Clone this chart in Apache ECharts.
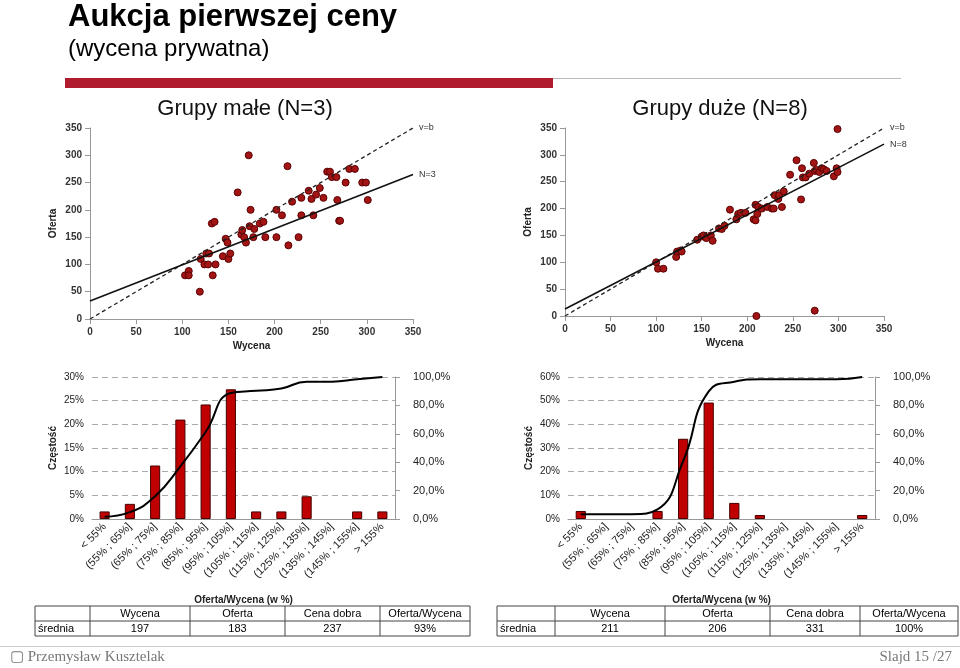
<!DOCTYPE html>
<html><head><meta charset="utf-8">
<script src="https://cdn.jsdelivr.net/npm/echarts@6/dist/echarts.min.js"></script>
<style>html,body{margin:0;padding:0;background:#fff}#c{width:960px;height:668px}</style>
</head><body><div id="c"></div>
<script>
const smallPts = [[103,80],[107,88],[107,80],[119,50],[120,110],[124,100],[126,120],[128,100],[129,120],[133,80],[132,175],[135,178],[136,100],[144,115],[147,147],[149,140],[150,110],[152,120],[160,232],[164,155],[165,163],[167,150],[169,140],[173,170],[172,300],[174,200],[178,165],[177,150],[184,175],[188,178],[190,150],[202,200],[202,150],[208,190],[214,280],[215,135],[219,215],[226,150],[229,222],[229,190],[237,235],[240,220],[242,190],[245,228],[249,240],[253,222],[257,270],[260,270],[262,260],[267,260],[268,218],[270,180],[271,180],[277,250],[281,275],[287,275],[295,250],[299,250],[301,218]];
const largePts = [[100,100],[102,88],[108,88],[122,110],[123,120],[127,122],[128,120],[145,142],[150,148],[152,150],[155,145],[160,150],[162,140],[169,163],[172,162],[175,168],[181,198],[188,180],[190,190],[193,192],[198,192],[207,180],[209,207],[209,178],[211,190],[212,203],[216,200],[210,0],[222,203],[227,200],[229,200],[230,225],[234,218],[235,225],[238,203],[240,232],[247,263],[254,290],[259,217],[260,275],[261,258],[264,258],[268,265],[273,285],[274,270],[276,272],[279,268],[282,275],[284,273],[287,270],[295,260],[298,275],[299,348],[299,268],[274,10]];
const diagLine = [[0,0],[350,350]];
const fitSmall = [[0,33],[350,265]];
const fitLarge = [[0,13],[350,320]];
const bins = ['< 55%','(55% ; 65%]','(65% ; 75%]','(75% ; 85%]','(85% ; 95%]','(95% ; 105%]','(105% ; 115%]','(115% ; 125%]','(125% ; 135%]','(135% ; 145%]','(145% ; 155%]','> 155%'];
const freqSmall = [1.6,3.2,11.3,21,24.2,27.4,1.6,1.6,4.8,0,1.6,1.6];
const cumSmall = [1.6,4.8,16.1,37.1,61.3,88.7,90.3,91.9,96.7,96.7,98.4,100];
const freqLarge = [3.4,0,0,3.4,33.9,49.2,6.8,1.7,0,0,0,1.7];
const cumLarge = [3.4,3.4,3.4,6.8,40.7,89.9,96.7,98.4,98.4,98.4,98.4,100];
const tableHead = ['Wycena','Oferta','Cena dobra','Oferta/Wycena'];
const rowSmall = ['197','183','237','93%'];
const rowLarge = ['211','206','331','100%'];

const F = 'Liberation Sans, Arial, sans-serif';
const axLab = {fontFamily:F,fontSize:10,color:'#333',fontWeight:'bold'};
const axLine = {show:true,lineStyle:{color:'#999'}};
function scatterX(gi){return {gridIndex:gi,type:'value',min:0,max:350,interval:50,axisLine:axLine,axisTick:{show:true,lineStyle:{color:'#999'}},splitLine:{show:false},axisLabel:axLab,name:'Wycena',nameLocation:'middle',nameGap:22,nameTextStyle:{fontFamily:F,fontSize:10,fontWeight:'bold',color:'#222'}};}
function scatterY(gi){return {gridIndex:gi,type:'value',min:0,max:350,interval:50,axisLine:axLine,axisTick:{show:true,lineStyle:{color:'#999'}},splitLine:{show:false},axisLabel:axLab,name:'Oferta',nameLocation:'middle',nameGap:32,nameTextStyle:{fontFamily:F,fontSize:10,fontWeight:'bold',color:'#222'}};}
function catX(gi){return {gridIndex:gi,type:'category',data:bins,axisLine:{lineStyle:{color:'#999'}},axisTick:{show:false},axisLabel:{rotate:45,interval:0,fontFamily:F,fontSize:11,color:'#222',margin:6},name:'Oferta/Wycena (w %)',nameLocation:'middle',nameGap:76,nameTextStyle:{fontFamily:F,fontSize:10,fontWeight:'bold',color:'#222'}};}
function freqY(gi,max,intv){return {gridIndex:gi,type:'value',min:0,max:max,interval:intv,position:'left',axisLine:{show:false},axisTick:{show:false},axisLabel:{fontFamily:F,fontSize:10,color:'#222',formatter:v=>v+'%'},splitLine:{lineStyle:{type:[6,4],color:'#aaa'}},name:'Częstość',nameLocation:'middle',nameGap:34,nameTextStyle:{fontFamily:F,fontSize:10,fontWeight:'bold',color:'#222'}};}
function cumY(gi){return {gridIndex:gi,type:'value',min:0,max:100,interval:20,position:'right',axisLine:{show:true,lineStyle:{color:'#999'}},axisTick:{show:true,lineStyle:{color:'#999'}},splitLine:{show:false},axisLabel:{fontFamily:F,fontSize:11,color:'#222',margin:18,formatter:v=>v.toFixed(1).replace('.',',')+'%'}};}
function endLbl(t){return {show:true,formatter:t,fontFamily:F,fontSize:9,color:'#333',distance:6};}
const nz = a => a.map(v => v === 0 ? '-' : v);

const graphic = [
  {type:'text',left:68,top:2,style:{text:'Aukcja pierwszej ceny',font:'bold 31px '+F,fill:'#000'}},
  {type:'text',left:68,top:37,style:{text:'(wycena prywatna)',font:'24px '+F,fill:'#000'}},
  {type:'rect',shape:{x:65,y:78,width:488,height:10},style:{fill:'#b01c2e'}},
  {type:'rect',shape:{x:553,y:78,width:348,height:1},style:{fill:'#bbb'}},
  {type:'text',x:245,y:98,style:{text:'Grupy małe (N=3)',font:'22px '+F,fill:'#111',align:'center'}},
  {type:'text',x:720,y:98,style:{text:'Grupy duże (N=8)',font:'22px '+F,fill:'#111',align:'center'}},
  {type:'rect',shape:{x:0,y:646,width:960,height:1},style:{fill:'#ccc'}},
  {type:'text',left:10,top:650,style:{text:'\u25A2 Przemysław Kusztelak',font:'15px Liberation Serif, serif',fill:'#777'}},
  {type:'text',right:8,top:650,style:{text:'Slajd 15 /27',font:'15px Liberation Serif, serif',fill:'#777'}}
];
function table(x0,cols,row){
  const y0=606,h=15;
  const xs=[x0]; cols.forEach(w=>xs.push(xs[xs.length-1]+w));
  const W=xs[xs.length-1]-x0;
  graphic.push({type:'rect',shape:{x:x0,y:y0,width:W,height:2*h},style:{fill:'none',stroke:'#444',lineWidth:1}});
  graphic.push({type:'line',shape:{x1:x0,y1:y0+h,x2:x0+W,y2:y0+h},style:{stroke:'#444'}});
  for(let i=1;i<xs.length-1;i++) graphic.push({type:'line',shape:{x1:xs[i],y1:y0,x2:xs[i],y2:y0+2*h},style:{stroke:'#444'}});
  graphic.push({type:'text',x:x0+3,y:y0+h+2,style:{text:'średnia',font:'11px '+F,fill:'#000'}});
  tableHead.forEach((t,i)=>{const cx=(xs[i+1]+xs[i+2])/2;
    graphic.push({type:'text',x:cx,y:y0+2,style:{text:t,font:'11px '+F,fill:'#000',align:'center'}});
    graphic.push({type:'text',x:cx,y:y0+h+2,style:{text:row[i],font:'11px '+F,fill:'#000',align:'center'}});});
}
table(35,[55,100,95,95,90],rowSmall);
table(497,[58,110,105,90,98],rowLarge);

const dot = {color:'#a31515',borderColor:'#5a0000',borderWidth:1,opacity:1};
const bar = {color:'#c00000',borderColor:'#400',borderWidth:1};
const option = {
  animation:false,
  graphic:graphic,
  grid:[
    {left:90,top:128,width:323,height:191},
    {left:565,top:128,width:319,height:188},
    {left:92,top:377,width:303,height:142},
    {left:568,top:377,width:307,height:142}
  ],
  xAxis:[scatterX(0),scatterX(1),catX(2),catX(3)],
  yAxis:[scatterY(0),scatterY(1),freqY(2,30,5),cumY(2),freqY(3,60,10),cumY(3)],
  series:[
    {type:'scatter',xAxisIndex:0,yAxisIndex:0,data:smallPts,symbolSize:7,itemStyle:dot},
    {type:'line',xAxisIndex:0,yAxisIndex:0,data:diagLine,symbol:'none',lineStyle:{color:'#222',width:1.3,type:[4,3]},endLabel:endLbl('v=b')},
    {type:'line',xAxisIndex:0,yAxisIndex:0,data:fitSmall,symbol:'none',lineStyle:{color:'#111',width:1.6},endLabel:endLbl('N=3')},
    {type:'scatter',xAxisIndex:1,yAxisIndex:1,data:largePts,symbolSize:7,itemStyle:dot},
    {type:'line',xAxisIndex:1,yAxisIndex:1,data:diagLine,symbol:'none',lineStyle:{color:'#222',width:1.3,type:[4,3]},endLabel:endLbl('v=b')},
    {type:'line',xAxisIndex:1,yAxisIndex:1,data:fitLarge,symbol:'none',lineStyle:{color:'#111',width:1.6},endLabel:endLbl('N=8')},
    {type:'bar',xAxisIndex:2,yAxisIndex:2,data:nz(freqSmall),barWidth:'40%',itemStyle:bar},
    {type:'line',xAxisIndex:2,yAxisIndex:3,data:cumSmall,smooth:true,symbol:'none',lineStyle:{color:'#000',width:2}},
    {type:'bar',xAxisIndex:3,yAxisIndex:4,data:nz(freqLarge),barWidth:'40%',itemStyle:bar},
    {type:'line',xAxisIndex:3,yAxisIndex:5,data:cumLarge,smooth:true,symbol:'none',lineStyle:{color:'#000',width:2}}
  ]
};
echarts.init(document.getElementById('c')).setOption(option);
</script></body></html>
